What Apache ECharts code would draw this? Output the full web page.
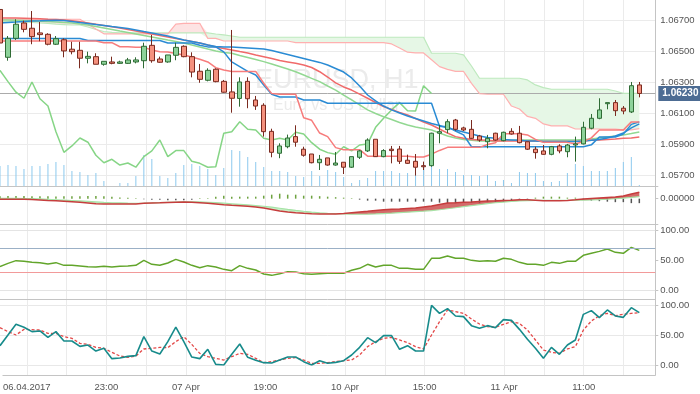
<!DOCTYPE html>
<html><head><meta charset="utf-8">
<script src="https://cdn.jsdelivr.net/npm/echarts/dist/echarts.min.js"></script>
<style>html,body{margin:0;padding:0;background:#fff}#c{width:700px;height:394px}</style>
</head><body><div id="c"></div>
<script>
// ---------- data ----------
const categories = Array.from({length: 83}, (_, i) => String(i)); // hourly slots
const xTickIndex = [3,13,23,33,43,53,63,73];
const xTickLabels = ['06.04.2017','23:00','07 Apr','19:00','10 Apr','15:00','11 Apr','11:00'];
const xGridIndex = [3,8,13,18,23,28,33,38,43,48,53,58,63,68,73,78];
const lastPrice = 1.06230;

// [open, close, low, high]
const candles = [
[1.06771,1.06555,1.06549,1.06780],[1.06463,1.06585,1.06441,1.06600],[1.06585,1.06676,1.06574,1.06708],[1.06684,1.06643,1.06624,1.06699],
[1.06650,1.06596,1.06547,1.06761],[1.06620,1.06609,1.06566,1.06690],[1.06611,1.06547,1.06540,1.06618],[1.06547,1.06583,1.06542,1.06600],
[1.06576,1.06504,1.06463,1.06585],[1.06515,1.06499,1.06482,1.06563],[1.06508,1.06457,1.06392,1.06563],[1.06457,1.06469,1.06424,1.06499],
[1.06467,1.06418,1.06418,1.06489],[1.06418,1.06437,1.06409,1.06437],[1.06433,1.06424,1.06418,1.06467],[1.06424,1.06433,1.06420,1.06441],
[1.06424,1.06446,1.06420,1.06459],[1.06433,1.06446,1.06424,1.06463],[1.06441,1.06534,1.06392,1.06557],[1.06540,1.06441,1.06428,1.06607],
[1.06452,1.06431,1.06428,1.06467],[1.06433,1.06478,1.06428,1.06478],[1.06476,1.06527,1.06444,1.06557],[1.06534,1.06467,1.06463,1.06540],
[1.06467,1.06368,1.06334,1.06495],[1.06373,1.06321,1.06299,1.06420],[1.06315,1.06379,1.06308,1.06392],[1.06386,1.06306,1.06302,1.06392],
[1.06308,1.06238,1.06235,1.06317],[1.06240,1.06199,1.06106,1.06639],[1.06198,1.06304,1.06145,1.06334],[1.06308,1.06196,1.06135,1.06334],
[1.06188,1.06149,1.06124,1.06214],[1.06154,1.05984,1.05952,1.06167],[1.05986,1.05851,1.05819,1.06003],[1.05845,1.05892,1.05813,1.05909],
[1.05887,1.05943,1.05877,1.05965],[1.05952,1.05916,1.05887,1.06025],[1.05871,1.05832,1.05823,1.05887],[1.05840,1.05784,1.05780,1.05840],
[1.05784,1.05806,1.05737,1.05834],[1.05815,1.05769,1.05765,1.05815],[1.05769,1.05782,1.05765,1.05853],[1.05787,1.05755,1.05711,1.05787],
[1.05755,1.05823,1.05750,1.05823],[1.05819,1.05860,1.05808,1.05866],[1.05860,1.05930,1.05853,1.05941],[1.05935,1.05823,1.05821,1.05935],
[1.05823,1.05862,1.05819,1.05871],[1.05871,1.05862,1.05780,1.05892],[1.05872,1.05793,1.05776,1.05892],[1.05800,1.05780,1.05776,1.05836],
[1.05793,1.05755,1.05701,1.05840],[1.05765,1.05758,1.05737,1.05791],[1.05765,1.05974,1.05758,1.05977],[1.05974,1.05984,1.05909,1.06027],
[1.05997,1.06048,1.05974,1.06064],[1.06059,1.05999,1.05990,1.06066],[1.06008,1.05995,1.05988,1.06016],[1.05999,1.05941,1.05938,1.06059],
[1.05956,1.05930,1.05919,1.05963],[1.05919,1.05941,1.05877,1.05963],[1.05974,1.05930,1.05926,1.05977],[1.05926,1.05980,1.05922,1.05984],
[1.05986,1.05969,1.05965,1.06006],[1.05974,1.05913,1.05909,1.06021],[1.05919,1.05871,1.05866,1.05919],[1.05871,1.05849,1.05810,1.05887],
[1.05860,1.05838,1.05836,1.05898],[1.05838,1.05887,1.05832,1.05892],[1.05892,1.05860,1.05845,1.05903],[1.05855,1.05898,1.05819,1.05905],
[1.05898,1.05905,1.05791,1.05952],[1.05905,1.06012,1.05902,1.06048],[1.06006,1.06070,1.05999,1.06098],[1.06070,1.06124,1.06064,1.06199],
[1.06164,1.06171,1.06128,1.06171],[1.06171,1.06119,1.06085,1.06188],[1.06135,1.06117,1.06096,1.06149],[1.06111,1.06280,1.06104,1.06304],
[1.06285,1.06230,1.06205,1.06304]
];

const volume = [20,21,20,17,20,20,22,24,21,15,14,11,13,5,0,3,3,10,31,27,10,8,13,21,22,20,17,11,18,36,
35,29,24,19,15,15,14,10,9,15,10,16,14,9,3,6,8,15,15,15,13,13,13,21,20,17,17,14,11,11,
10,11,5,6,3,14,13,13,5,4,5,13,22,20,15,15,15,18,24,29,1];

const maBlue = [1.06684,1.06687,1.06690,1.06694,1.06697,1.06698,1.06700,1.06702,1.06700,1.06694,
1.06687,1.06681,1.06674,1.06668,1.06661,1.06655,1.06648,1.06639,1.06629,1.06620,
1.06610,1.06600,1.06587,1.06574,1.06565,1.06555,1.06542,1.06533,1.06529,1.06529,
1.06526,1.06523,1.06520,1.06516,1.06507,1.06494,1.06481,1.06468,1.06455,1.06442,
1.06430,1.06413,1.06391,1.06368,1.06330,1.06278,1.06220,1.06182,1.06149,1.06124,
1.06104,1.06085,1.06069,1.06053,1.06037,1.06024,1.06008,1.05995,1.05982,1.05969,
1.05956,1.05947,1.05941,1.05934,1.05931,1.05928,1.05924,1.05924,1.05921,1.05921,
1.05921,1.05921,1.05921,1.05924,1.05928,1.05934,1.05943,1.05956,1.05975,1.06008,1.06034];

const maRed = [1.06716,1.06716,1.06716,1.06715,1.06713,1.06711,1.06708,1.06706,1.06703,1.06698,
1.06692,1.06684,1.06676,1.06668,1.06659,1.06652,1.06642,1.06632,1.06623,1.06613,
1.06603,1.06594,1.06584,1.06574,1.06565,1.06555,1.06542,1.06529,1.06520,1.06510,
1.06500,1.06491,1.06478,1.06467,1.06455,1.06442,1.06433,1.06424,1.06413,1.06397,
1.06370,1.06336,1.06298,1.06272,1.06252,1.06226,1.06199,1.06172,1.06145,1.06127,
1.06108,1.06091,1.06069,1.06046,1.06027,1.06001,1.05975,1.05952,1.05941,1.05934,
1.05931,1.05928,1.05924,1.05924,1.05924,1.05924,1.05924,1.05924,1.05921,1.05921,
1.05921,1.05921,1.05921,1.05924,1.05928,1.05931,1.05934,1.05937,1.05941,1.05943,1.05950];

const maGreen = [1.06703,1.06703,1.06702,1.06700,1.06698,1.06695,1.06693,1.06690,1.06687,1.06684,
1.06677,1.06671,1.06661,1.06652,1.06642,1.06632,1.06623,1.06613,1.06603,1.06594,
1.06584,1.06574,1.06565,1.06555,1.06542,1.06529,1.06516,1.06504,1.06494,1.06489,
1.06475,1.06462,1.06449,1.06435,1.06420,1.06404,1.06388,1.06370,1.06349,1.06327,
1.06306,1.06278,1.06252,1.06220,1.06188,1.06156,1.06124,1.06101,1.06080,1.06062,
1.06043,1.06027,1.06014,1.06005,1.05995,1.05975,1.05956,1.05943,1.05934,1.05928,
1.05924,1.05924,1.05924,1.05928,1.05928,1.05931,1.05931,1.05931,1.05931,1.05931,
1.05931,1.05931,1.05931,1.05934,1.05937,1.05943,1.05950,1.05956,1.05963,1.05972,1.05982];

const kijun = [1.06584,1.06584,1.06584,1.06584,1.06584,1.06584,1.06584,1.06584,1.06584,1.06584,1.06584,
1.06571,1.06571,1.06571,1.06571,1.06571,1.06571,1.06571,1.06571,1.06571,1.06571,
1.06555,1.06555,1.06555,1.06555,1.06540,1.06530,1.06530,1.06498,1.06433,1.06403,1.06372,1.06349,1.06285,1.06225,
1.06207,1.06207,1.06207,1.06188,1.06188,1.06188,
1.06167,1.06167,1.06167,1.06167,1.06167,1.06167,1.06167,1.06167,1.06167,1.06167,1.06167,1.06167,1.06167,1.06167,
1.06017,1.06017,1.05988,1.05963,
1.05887,1.05887,1.05887,1.05887,1.05887,1.05887,1.05887,1.05887,1.05887,1.05887,1.05887,1.05887,1.05887,1.05887,1.05887,
1.05899,1.05950,1.05950,1.05950,1.05968,1.06031,1.06047];

const tenkan = [1.06568,1.06568,1.06568,1.06568,1.06568,1.06568,1.06568,1.06568,1.06568,1.06568,1.06568,1.06568,1.06568,
1.06557,1.06557,1.06531,1.06531,1.06527,1.06527,
1.06510,1.06499,1.06497,1.06488,1.06478,1.06465,1.06450,1.06433,1.06396,1.06381,
1.06372,1.06372,1.06372,1.06372,1.06296,1.06229,1.06225,1.06225,1.06225,
1.06073,1.06057,1.05975,1.05952,1.05881,1.05868,1.05868,1.05868,
1.05826,1.05826,1.05826,1.05826,1.05826,1.05826,1.05821,1.05821,1.05839,1.05863,
1.05883,1.05883,1.05883,1.05883,1.05883,1.05901,1.05912,1.05971,1.05971,1.05971,1.05963,1.05934,
1.05915,1.05915,1.05915,1.05915,1.05905,1.05920,1.05944,1.05995,1.05995,1.05995,1.05995,1.06047,1.06047];

const spanA = [1.06703,1.06708,1.06708,1.06708,1.06708,1.06708,1.06708,1.06708,1.06708,1.06708,1.06708,
1.06677,1.06645,1.06614,1.06614,1.06614,1.06614,1.06614,1.06614,1.06614,1.06614,1.06614,
1.06677,1.06682,1.06682,1.06682,1.06585,1.06585,
1.06568,1.06568,1.06568,1.06568,1.06568,1.06568,1.06568,1.06568,1.06568,
1.06558,1.06558,1.06558,1.06558,1.06558,1.06558,1.06558,1.06558,1.06558,1.06558,1.06558,1.06558,
1.06549,1.06523,1.06496,1.06491,1.06491,1.06447,1.06403,1.06385,1.06372,1.06372,1.06295,1.06229,
1.06225,1.06225,1.06225,1.06149,1.06130,1.06082,1.06070,1.06034,1.06021,1.06021,1.06021,
1.06001,1.06001,1.06001,1.06001,1.06001,1.06001,1.05995,1.05995,1.06004];

const spanB = [1.06692,1.06694,1.06694,1.06690,1.06687,1.06684,1.06681,1.06677,1.06674,1.06671,1.06671,
1.06658,1.06642,1.06629,1.06624,
1.06620,1.06620,1.06620,1.06620,1.06620,1.06620,1.06620,1.06620,1.06620,1.06620,1.06620,1.06620,
1.06613,1.06607,1.06600,
1.06592,1.06592,1.06592,1.06592,1.06592,1.06592,1.06592,1.06592,1.06592,1.06592,1.06592,1.06592,
1.06592,1.06592,1.06592,1.06592,1.06592,1.06592,1.06592,1.06592,1.06592,1.06592,1.06592,1.06592,
1.06489,1.06489,1.06489,1.06489,1.06478,1.06407,
1.06328,1.06328,1.06328,1.06328,1.06328,1.06328,1.06317,1.06285,1.06268,
1.06257,1.06257,1.06257,1.06257,1.06257,1.06257,1.06257,1.06257,1.06246,1.06231,1.06231,1.06231];

const chikou = [1.06379,1.06306,1.06238,1.06199,1.06304,1.06196,1.06149,1.05984,1.05851,1.05892,
1.05943,1.05916,1.05832,1.05784,1.05806,1.05769,1.05782,1.05755,1.05823,1.05860,
1.05930,1.05823,1.05862,1.05862,1.05793,1.05780,1.05755,1.05758,1.05974,1.05984,
1.06048,1.05999,1.05995,1.05941,1.05930,1.05941,1.05930,1.05980,1.05969,1.05913,
1.05871,1.05849,1.05838,1.05887,1.05860,1.05898,1.05905,1.06012,1.06070,1.06124,
1.06171,1.06119,1.06117,1.06280,1.06230];

const macd = [-0.00006,-0.00006,-0.00006,-0.00006,-0.00008,-0.00013,-0.00018,-0.00021,-0.00025,-0.00030,
-0.00036,-0.00043,-0.00050,-0.00053,-0.00053,-0.00053,-0.00053,-0.00053,-0.00046,-0.00043,
-0.00041,-0.00038,-0.00035,-0.00033,-0.00036,-0.00040,-0.00046,-0.00053,-0.00060,-0.00066,
-0.00070,-0.00076,-0.00083,-0.00093,-0.00108,-0.00123,-0.00133,-0.00140,-0.00146,-0.00150,
-0.00153,-0.00153,-0.00153,-0.00148,-0.00140,-0.00133,-0.00126,-0.00118,-0.00111,-0.00106,
-0.00103,-0.00098,-0.00093,-0.00083,-0.00073,-0.00058,-0.00043,-0.00040,-0.00036,-0.00033,
-0.00028,-0.00023,-0.00021,-0.00018,-0.00015,-0.00011,-0.00010,-0.00015,-0.00020,-0.00020,
-0.00020,-0.00018,-0.00011,-0.00003,0.00002,0.00007,0.00012,0.00017,0.00027,0.00047,0.00064];

const macdSignal = [0.00004,0.00003,0.00002,0.00001,0,-0.00003,-0.00007,-0.00011,-0.00015,-0.00019,
-0.00023,-0.00028,-0.00033,-0.00038,-0.00041,-0.00043,-0.00045,-0.00046,-0.00045,-0.00043,
-0.00040,-0.00037,-0.00034,-0.00032,-0.00032,-0.00033,-0.00036,-0.00040,-0.00045,-0.00051,
-0.00057,-0.00063,-0.00069,-0.00076,-0.00085,-0.00096,-0.00107,-0.00117,-0.00126,-0.00134,
-0.00141,-0.00146,-0.00150,-0.00153,-0.00155,-0.00156,-0.00155,-0.00153,-0.00149,-0.00145,
-0.00140,-0.00135,-0.00130,-0.00125,-0.00119,-0.00111,-0.00101,-0.00091,-0.00080,-0.00069,
-0.00059,-0.00049,-0.00041,-0.00034,-0.00028,-0.00023,-0.00019,-0.00017,-0.00016,-0.00016,
-0.00016,-0.00016,-0.00016,-0.00015,-0.00013,-0.00010,-0.00006,-0.00001,0.00005,0.00012,0.00020];

const macdHist = [0.00025,0.00027,0.00027,0.00027,0.00025,0.00025,0.00025,0.00022,0.00025,0.00025,
0.00025,0.00027,0.00027,0.00025,0.00020,0.00012,0.00010,0.00005,-0.00005,-0.00010,
-0.00010,-0.00015,-0.00015,-0.00015,-0.00010,0.00005,0.00005,0.00020,0.00030,0.00020,
0.00020,0.00020,0.00020,0.00030,0.00040,0.00050,0.00040,0.00040,0.00030,0.00030,
0.00025,0.00020,0.00015,0.00010,0.00005,-0.00010,-0.00020,-0.00020,-0.00030,-0.00030,
-0.00030,-0.00030,-0.00030,-0.00030,-0.00030,-0.00040,-0.00045,-0.00045,-0.00040,-0.00040,
-0.00040,-0.00030,-0.00030,-0.00030,-0.00020,-0.00015,-0.00005,0.00010,0.00020,0.00020,
0.00020,0.00010,0.00010,-0.00010,-0.00020,-0.00025,-0.00030,-0.00035,-0.00035,-0.00045,-0.00045];

const rsi = [38.9,44.4,48.9,47.8,46.1,45.6,43.3,45.6,41.1,41.1,40,38.9,38.3,39.4,38.3,39.4,40,41.1,49.4,42.8,
41.1,45,51.1,46.7,41.1,37.2,40.6,38.3,34.4,32.2,40.6,36.1,33.3,26.7,24.4,27.2,30.6,30,27.2,26.1,
27.2,27.8,27.8,27.8,32.8,36.1,42.8,38.3,41.1,41.1,36.1,36.1,34.4,34.4,52.8,52.8,56.7,52.8,52.8,49.4,
47.8,48.9,47.8,52.8,51.1,46.1,42.8,42.8,41.1,46.1,44.4,47.8,47.8,57.8,61.1,64.4,68.3,62.8,61.1,71.1,66.1];
const rsiLevels = [70, 30];

const stochK = [32.2,50,67.8,62.8,55.6,56.7,46.1,55.6,40,40,31.1,33.3,23.3,27.8,10.6,11.7,14.4,15.6,47.2,23.3,
18.3,38.9,63.3,38.9,13.3,10.6,26.1,1.1,0,17.8,35,12.8,7.8,3.9,3.3,8.3,13.3,13.3,5.6,0,
7.2,2.8,4.4,7.2,16.7,29.4,45.6,37.2,48.9,48.9,26.1,32.2,23.3,23.3,99.4,86.1,93.9,81.7,80.6,65.6,
61.1,65.6,62.2,75.6,74.4,59.4,42.8,27.8,11.1,29.4,17.8,33.3,41.7,84.4,90.6,78.9,91.7,81.7,79.4,95.6,87.2];
const stochD = [62.2,55.6,50,59.4,58.9,58.3,52.8,52.8,47.2,44.4,36.1,34.4,29.4,27.8,21.1,15,12.8,15,26.7,27.8,
29.4,28.9,38.9,47.2,34.4,19.4,13.9,11.1,8.3,13.9,19.4,17.8,11.1,3.9,5.6,8.3,11.1,12.2,8.3,2.8,
2.8,3.9,5.6,7.2,8.3,16.7,30.6,38.9,44.4,46.1,41.7,37.2,30.6,26.7,50,72.2,91.7,88.9,86.1,76.7,
68.3,63.9,62.8,67.8,72.2,69.4,58.3,41.7,25,21.1,19.4,26.7,30.6,58.3,73.3,82.2,86.1,82.2,84.4,86.1,87.2];

// ---------- derived helpers for fills (between two read lines) ----------
const r5 = v => Math.round(v * 1e6) / 1e6;
const cloudBase = spanA.map((a, i) => Math.min(a, spanB[i]));
const cloudGreen = spanA.map((a, i) => r5(Math.max(spanB[i] - a, 0)));
const cloudPink = spanA.map((a, i) => r5(Math.max(a - spanB[i], 0)));
const macdBase = macd.map((m, i) => Math.min(m, macdSignal[i]));
const macdRedFill = macd.map((m, i) => r5(Math.max(m - macdSignal[i], 0)));
const macdGreenFill = macd.map((m, i) => r5(Math.max(macdSignal[i] - m, 0)));

// ---------- chart ----------
const FONT = 'Liberation Sans';
const LBL = {color: '#555', fontSize: 9.5, fontFamily: FONT};
const GL = -0.7, GW = 656;
const grids = [
  {left: GL, width: GW, top: 0, height: 375},      // 0 background / x axis
  {left: GL, width: GW, top: 0, height: 206.8},    // 1 price
  {left: GL, width: GW, top: 146, height: 40},     // 2 volume
  {left: GL, width: GW, top: 186, height: 38},     // 3 macd
  {left: GL, width: GW, top: 224, height: 66},     // 4 rsi
  {left: GL, width: GW, top: 299, height: 66}      // 5 stochastic
];
const hiddenX = (gi, extra) => Object.assign({
  type: 'category', gridIndex: gi, data: categories, boundaryGap: false,
  axisLine: {show: false}, axisTick: {show: false}, axisLabel: {show: false}, splitLine: {show: false}
}, extra || {});
const xAxes = [
  {type: 'category', gridIndex: 0, data: categories, boundaryGap: false, position: 'bottom',
   axisLine: {show: true, lineStyle: {color: '#c4c4c4', width: 1}},
   axisTick: {show: false},
   axisLabel: Object.assign({}, LBL, {margin: 7, interval: (i) => xTickIndex.includes(i),
     formatter: (v, i) => { const j = xTickIndex.indexOf(Number(v)); return j >= 0 ? xTickLabels[j] : ''; }}),
   splitLine: {show: true, interval: (i) => xGridIndex.includes(i), lineStyle: {color: '#ebebeb', width: 1}}},
  hiddenX(1),
  hiddenX(2, {axisLine: {show: true, onZero: false, lineStyle: {color: '#c4c4c4'}}}),
  hiddenX(3, {axisLine: {show: true, onZero: false, lineStyle: {color: '#c4c4c4'}}}),
  hiddenX(4),
  hiddenX(5, {position: 'top', axisLine: {show: true, onZero: false, lineStyle: {color: '#c4c4c4'}}})
];
const yAxes = [
  {type: 'value', gridIndex: 0, position: 'right', min: 0, max: 1,
   axisLine: {show: true, lineStyle: {color: '#c4c4c4'}}, axisTick: {show: false}, axisLabel: {show: false}, splitLine: {show: false}},
  {type: 'value', gridIndex: 1, position: 'right', min: 1.055, max: 1.06832, interval: 0.002,
   axisLine: {show: false}, axisTick: {show: false},
   axisLabel: Object.assign({}, LBL, {margin: 5, showMinLabel: false, showMaxLabel: false, formatter: v => v.toFixed(5)}),
   splitLine: {show: true, showMinLine: false, showMaxLine: false, lineStyle: {color: '#ebebeb'}}},
  {type: 'value', gridIndex: 2, min: 0, max: 40, show: false},
  {type: 'value', gridIndex: 3, position: 'right', min: -0.00254, max: 0.00127, interval: 0.00254,
   axisLine: {show: false}, axisTick: {show: true, length: 3, lineStyle: {color: '#c4c4c4'}},
   axisLabel: Object.assign({}, LBL, {margin: 5, formatter: v => Math.abs(v) < 1e-9 ? '0.00000' : ''}),
   splitLine: {show: false}},
  {type: 'value', gridIndex: 4, position: 'right', min: 0, max: 110, interval: 50,
   axisLine: {show: false}, axisTick: {show: true, length: 3, lineStyle: {color: '#c4c4c4'}},
   axisLabel: Object.assign({}, LBL, {margin: 5, showMaxLabel: false, formatter: v => v.toFixed(2)}),
   splitLine: {show: false}},
  {type: 'value', gridIndex: 5, position: 'right', min: 0, max: 110, interval: 50,
   axisLine: {show: false}, axisTick: {show: true, length: 3, lineStyle: {color: '#c4c4c4'}},
   axisLabel: Object.assign({}, LBL, {margin: 5, showMaxLabel: false, formatter: v => v.toFixed(2)}),
   splitLine: {show: true, showMaxLine: false, lineStyle: {color: '#e8e8e8'}}}
];

const line = (data, color, width, gi, extra) => Object.assign({
  type: 'line', data: data, xAxisIndex: gi, yAxisIndex: gi, symbol: 'none', silent: true,
  lineStyle: {color: color, width: width}, z: 3
}, extra || {});

const series = [
  // ichimoku cloud fills
  line(cloudBase, 'rgba(0,0,0,0)', 0, 1, {stack: 'cloud', stackStrategy: 'all', lineStyle: {width: 0, opacity: 0}, z: 1}),
  line(cloudGreen, 'rgba(0,0,0,0)', 0, 1, {stack: 'cloud', stackStrategy: 'all', lineStyle: {width: 0, opacity: 0}, areaStyle: {color: '#e6f7e6', opacity: 1}, z: 1}),
  line(cloudPink, 'rgba(0,0,0,0)', 0, 1, {stack: 'cloud', stackStrategy: 'all', lineStyle: {width: 0, opacity: 0}, areaStyle: {color: '#fde3e3', opacity: 1}, z: 1}),
  line(spanB, '#bde9bd', 1.2, 1),
  line(spanA, '#ffb0b0', 1.2, 1),
  line(chikou, '#86d586', 1.5, 1, {
    markLine: {silent: true, symbol: 'none', animation: false, precision: 5, z: 2,
      lineStyle: {color: '#ababab', width: 1, type: 'solid'},
      label: {show: true, position: 'end', distance: 3, formatter: lastPrice.toFixed(5), color: '#fff',
        backgroundColor: '#4d6c93', padding: [3, 6, 2, 4], fontSize: 10, fontWeight: 'bold', fontFamily: FONT},
      data: [{yAxis: lastPrice}]}}),
  line(maGreen, '#92d892', 1.5, 1),
  line(maRed, '#f06a6a', 1.5, 1),
  line(maBlue, '#2a8bd4', 1.5, 1),
  line(kijun, '#2a8bd4', 1.5, 1),
  line(tenkan, '#f77c7c', 1.5, 1),
  {type: 'candlestick', data: candles, xAxisIndex: 1, yAxisIndex: 1, barWidth: 5, silent: true, z: 5,
   itemStyle: {color: '#8dd39a', color0: '#f4917e', borderColor: '#2f6b35', borderColor0: '#7a2a1f', borderWidth: 1}},
  // volume
  {type: 'bar', data: volume, xAxisIndex: 2, yAxisIndex: 2, barWidth: 1, silent: true, itemStyle: {color: '#8cc9ee'}, z: 2},
  // macd
  line(macdBase, 'rgba(0,0,0,0)', 0, 3, {stack: 'm', stackStrategy: 'all', lineStyle: {width: 0, opacity: 0}, z: 1}),
  line(macdRedFill, 'rgba(0,0,0,0)', 0, 3, {stack: 'm', stackStrategy: 'all', lineStyle: {width: 0, opacity: 0}, areaStyle: {color: '#d46a6a', opacity: 1}, z: 1}),
  line(macdGreenFill, 'rgba(0,0,0,0)', 0, 3, {stack: 'm', stackStrategy: 'all', lineStyle: {width: 0, opacity: 0}, areaStyle: {color: '#c9f0c9', opacity: 1}, z: 1}),
  {type: 'bar', data: macdHist, xAxisIndex: 3, yAxisIndex: 3, barWidth: 1.5, silent: true, z: 2,
   itemStyle: {color: p => p.value >= 0 ? '#6da23f' : '#555555'}},
  line(macdSignal, '#a6e3a6', 1.2, 3),
  line(macd, '#c63d3d', 1.5, 3),
  // rsi
  line(rsi, '#62a52b', 1.5, 4, {markLine: {silent: true, symbol: 'none', animation: false, precision: 2, label: {show: false},
    data: [
      {yAxis: 100, lineStyle: {color: '#e4e4e4', width: 1, type: 'solid'}},
      {yAxis: 0, lineStyle: {color: '#e4e4e4', width: 1, type: 'solid'}},
      {yAxis: rsiLevels[0], lineStyle: {color: '#9bb0c6', width: 1, type: 'solid'}},
      {yAxis: rsiLevels[1], lineStyle: {color: '#f29a9a', width: 1, type: 'solid'}}
    ]}}),
  // stochastic
  line(stochD, '#e34848', 1.3, 5, {lineStyle: {color: '#e34848', width: 1.3, type: [3, 2]}}),
  line(stochK, '#178b8b', 1.6, 5)
];

const chart = echarts.init(document.getElementById('c'), null, {renderer: 'canvas'});
chart.setOption({
  animation: false,
  backgroundColor: '#ffffff',
  title: [
    {text: 'EURUSD, H1', left: 250, top: 62, z: 0, textStyle: {fontSize: 27, color: '#ebebeb', fontWeight: 'normal', fontFamily: FONT}},
    {text: 'Euro vs US Dollar', left: 268, top: 93, z: 0, textStyle: {fontSize: 16, color: '#ebebeb', fontWeight: 'normal', fontFamily: FONT}}
  ],
  grid: grids,
  xAxis: xAxes,
  yAxis: yAxes,
  series: series
});
</script></body></html>
